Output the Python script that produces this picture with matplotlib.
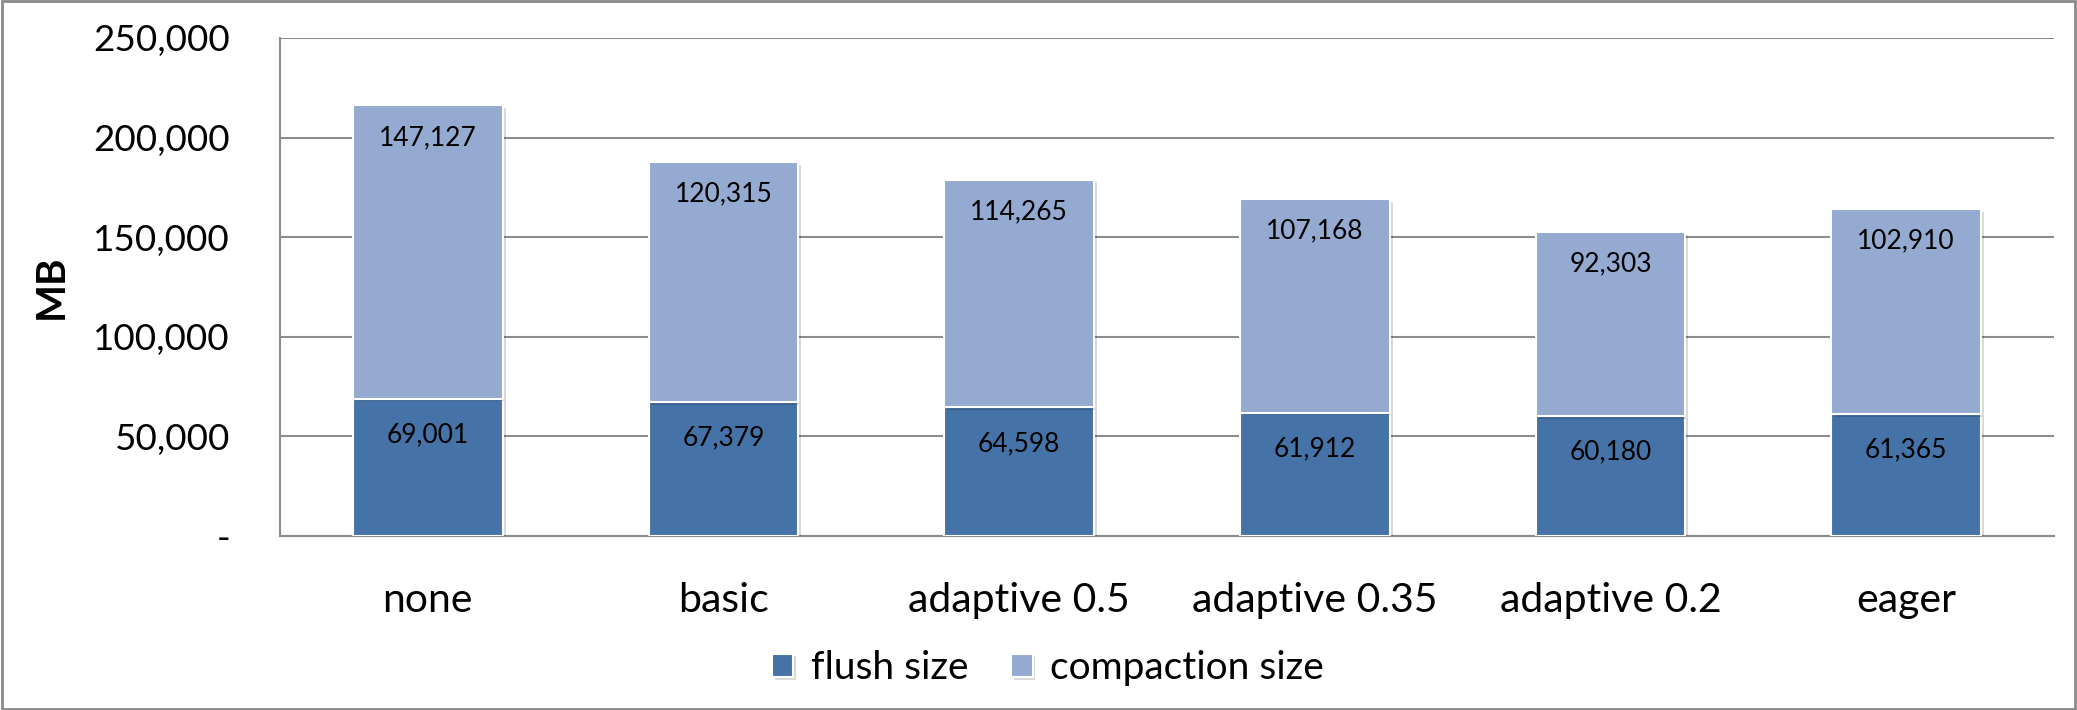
import matplotlib
matplotlib.use("Agg")
import matplotlib.pyplot as plt
from matplotlib.patches import Rectangle
import matplotlib.patheffects as pe

categories = ["none", "basic", "adaptive 0.5", "adaptive 0.35", "adaptive 0.2", "eager"]
flush_size = [69001, 67379, 64598, 61912, 60180, 61365]
compaction_size = [147127, 120315, 114265, 107168, 92303, 102910]
yticks = [0, 50000, 100000, 150000, 200000, 250000]
ytick_labels = ["-", "50,000", "100,000", "150,000", "200,000", "250,000"]

FONT = ["Lato", "DejaVu Sans"]
plt.rcParams["font.family"] = FONT

c_flush = "#4573a7"
c_comp = "#95aad0"
grid_c = "#8c8c8c"

fig = plt.figure(figsize=(20.77, 7.10), dpi=100)
ax = fig.add_axes([280/2077, 1-536/710, (2054-280)/2077, (536-38)/710])

x = list(range(len(categories)))
shadow = [pe.SimplePatchShadow(offset=(2, -2), shadow_rgbFace="#000000", alpha=0.15), pe.Normal()]
b1 = ax.bar(x, flush_size, width=0.507, color=c_flush, edgecolor="white", linewidth=1.5, zorder=3, path_effects=shadow)
b2 = ax.bar(x, compaction_size, width=0.507, bottom=flush_size, color=c_comp, edgecolor="white", linewidth=1.5, zorder=3, path_effects=shadow)

for xi, f, c in zip(x, flush_size, compaction_size):
    ax.annotate(f"{f:,}", (xi, f), xytext=(0, -17), textcoords="offset points",
                ha="center", va="top", fontsize=19, color="black", zorder=5)
    ax.annotate(f"{c:,}", (xi, f + c), xytext=(0, -14), textcoords="offset points",
                ha="center", va="top", fontsize=19, color="black", zorder=5)

ax.set_xlim(-0.5, len(categories) - 0.5)
ax.set_ylim(0, 250000)
ax.set_yticks(yticks)
ax.set_yticklabels(ytick_labels, fontsize=26.5)
ax.set_xticks(x)
ax.set_xticklabels(categories, fontsize=29.5)
ax.tick_params(axis="both", length=0)
ax.tick_params(axis="y", pad=36)
ax.tick_params(axis="x", pad=33)
ax.yaxis.grid(True, color=grid_c, linewidth=1.5, zorder=0)
ax.set_axisbelow(True)
for s in ["top", "right"]:
    ax.spines[s].set_visible(False)
for s in ["left", "bottom"]:
    ax.spines[s].set_color(grid_c)
    ax.spines[s].set_linewidth(1.5)

ax.set_ylabel("MB", fontsize=29, fontweight="bold", labelpad=17)

leg = fig.legend([b1, b2], ["flush size", "compaction size"], loc="center",
                 bbox_to_anchor=(1048/2077, 1-668/710), ncol=2, frameon=False,
                 fontsize=28, handlelength=0.55, handleheight=0.55, handletextpad=0.45,
                 columnspacing=1.1)

fig.patches.append(Rectangle((0.001, 0.002), 0.998, 0.996, transform=fig.transFigure,
                             fill=False, edgecolor="#8a8a8a", linewidth=2))

fig.savefig("out.png", dpi=100)
